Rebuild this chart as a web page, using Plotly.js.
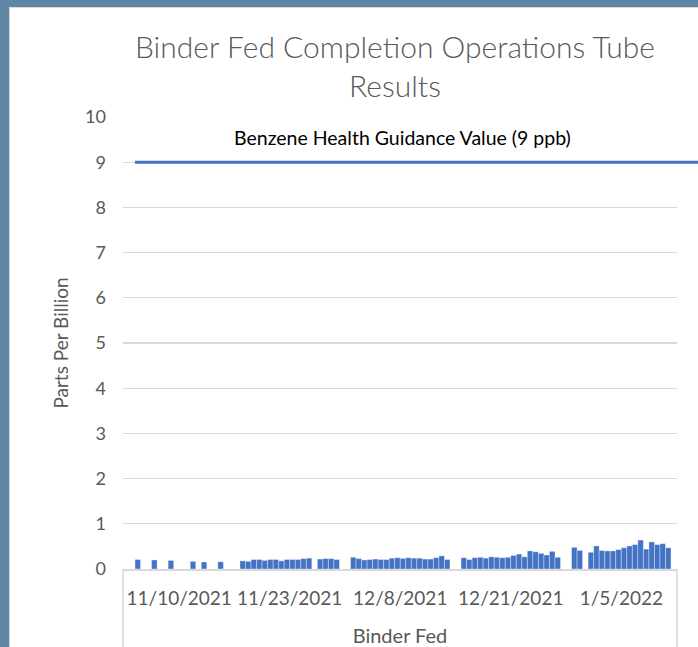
<!DOCTYPE html>
<html>
<head>
<meta charset="utf-8">
<script src="https://cdn.plot.ly/plotly-3.0.1.min.js"></script>
<style>
  html, body { margin: 0; padding: 0; width: 698px; height: 647px; overflow: hidden; background: #5E87A6; }
  #frame { position: absolute; left: 9px; top: 7px; width: 689px; height: 640px; border-left: 1px solid #D9D9D9; border-top: 1px solid #D9D9D9; background: #fff; box-sizing: border-box; }
  #chart { position: absolute; left: 0; top: 0; width: 688px; height: 639px; }
</style>
</head>
<body>
<div id="frame"><div id="chart"></div></div>
<script>
// ---- data ----
const chartTitle = 'Binder Fed Completion Operations Tube<br>Results';
const groupLabel = 'Binder Fed';
const yTitle = 'Parts Per Billion';
const tickLabels = ['11/10/2021', '11/23/2021', '12/8/2021', '12/21/2021', '1/5/2022'];
const guidanceValue = 9;
const guidanceLabel = 'Benzene Health Guidance Value (9 ppb)';
// benzene (ppb) per sample, in sample order; null = no result
const benzenePpb = [
  0.21, null, null, 0.20, null, null, 0.19, null, null, null,
  0.17, null, 0.155, null, null, 0.16, null, null, null, 0.18,
  0.17, 0.21, 0.21, 0.19, 0.21, 0.21, 0.18, 0.21, 0.21, 0.21,
  0.23, 0.24, null, 0.22, 0.23, 0.23, 0.21, null, null, 0.26,
  0.23, 0.20, 0.21, 0.22, 0.21, 0.21, 0.24, 0.25, 0.235, 0.25,
  0.24, 0.24, 0.22, 0.22, 0.25, 0.29, 0.21, null, null, 0.25,
  0.21, 0.25, 0.26, 0.24, 0.27, 0.26, 0.25, 0.26, 0.30, 0.33,
  0.27, 0.40, 0.38, 0.345, 0.31, 0.39, 0.26, null, null, 0.48,
  0.41, null, 0.37, 0.51, 0.41, 0.40, 0.40, 0.43, 0.47, 0.51,
  0.54, 0.64, 0.44, 0.60, 0.54, 0.56, 0.47
];

// ---- layout helpers ----
const sampleIndex = benzenePpb.map((_, i) => i);
const xRange = [-2.67, benzenePpb.length + 0.58];
const tickVals = tickLabels.map((_, k) => 7.5 + 20 * k);
const lineStartPaper = (-0.5 - xRange[0]) / (xRange[1] - xRange[0]);

const FONT = 'Lato, "Open Sans", sans-serif';
const GREY = '#595959';

const trace = {
  type: 'bar',
  x: sampleIndex,
  y: benzenePpb,
  marker: { color: '#4472C4', line: { color: 'rgba(255,255,255,0.45)', width: 0.8 } },
  width: 1,
  hoverinfo: 'y'
};

const layout = {
  width: 688, height: 639,
  margin: { l: 113, r: 21, t: 109, b: 78, pad: 0 },
  paper_bgcolor: '#ffffff',
  plot_bgcolor: '#ffffff',
  showlegend: false,
  bargap: 0,
  font: { family: FONT, color: GREY },
  title: {
    text: chartTitle,
    font: { family: FONT, size: 30, color: GREY, weight: 300 },
    x: 0.491, xref: 'paper', xanchor: 'center',
    y: 0.922, yref: 'container', yanchor: 'middle'
  },
  xaxis: {
    type: 'linear',
    range: xRange,
    tickmode: 'array',
    tickvals: tickVals,
    ticktext: tickLabels,
    ticks: '',
    showgrid: false,
    zeroline: false,
    showline: true,
    linecolor: '#D9D9D9',
    linewidth: 1.5,
    tickfont: { family: FONT, size: 19, color: GREY },
    ticklabelstandoff: 12,
    title: { text: groupLabel, font: { family: FONT, size: 20, color: GREY }, standoff: 24 }
  },
  yaxis: {
    range: [0, 10],
    dtick: 1,
    tick0: 0,
    ticks: '',
    showgrid: true,
    gridcolor: '#D9D9D9',
    gridwidth: 1.3,
    zeroline: false,
    showline: false,
    tickfont: { family: FONT, size: 18, color: GREY },
    ticklabelstandoff: 16,
    title: { text: yTitle, font: { family: FONT, size: 19, color: GREY }, standoff: 11 }
  },
  shapes: [
    { type: 'line', xref: 'paper', yref: 'y', x0: lineStartPaper, x1: 1.08, y0: guidanceValue, y1: guidanceValue,
      line: { color: '#4472C4', width: 3 } },
    { type: 'line', xref: 'paper', yref: 'paper', x0: 0, x1: 0, y0: 0, y1: -0.2,
      line: { color: '#D9D9D9', width: 1.5 } },
    { type: 'line', xref: 'paper', yref: 'paper', x0: 1, x1: 1, y0: 0, y1: -0.2,
      line: { color: '#D9D9D9', width: 1.5 } }
  ],
  annotations: [
    { text: guidanceLabel, xref: 'paper', yref: 'y', x: 0.505, y: guidanceValue + 0.55,
      xanchor: 'center', yanchor: 'middle', showarrow: false,
      font: { family: FONT, size: 19.5, color: '#000000' } }
  ]
};

Plotly.newPlot('chart', [trace], layout, { displayModeBar: false, staticPlot: true });
</script>
</body>
</html>
